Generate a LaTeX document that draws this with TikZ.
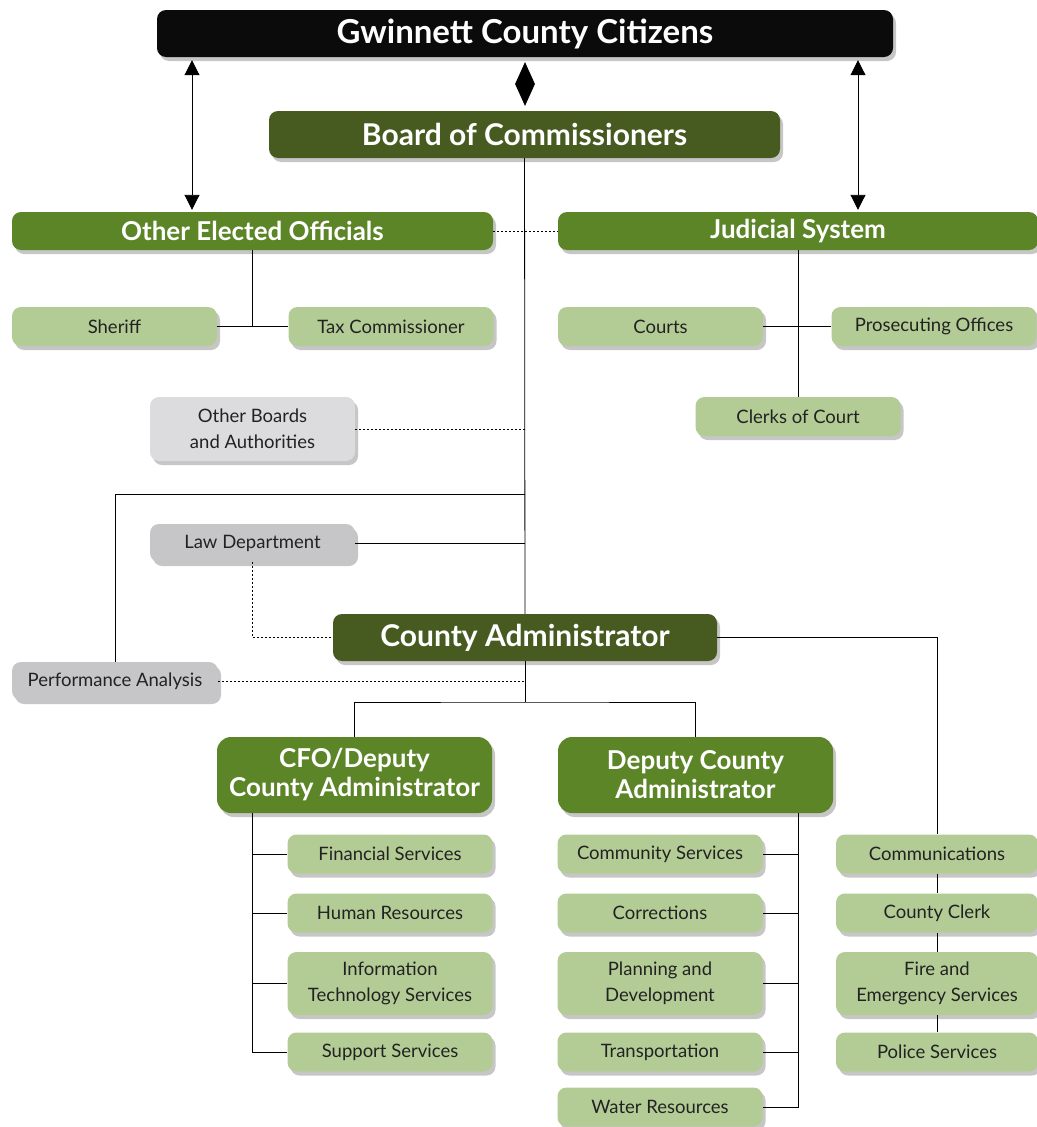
\documentclass[tikz,border=0pt]{standalone}
\usepackage{fontspec}
\setmainfont{Lato}
\usetikzlibrary{shapes.geometric, shadows, arrows.meta}
\definecolor{citblack}{HTML}{0B0B0B}
\definecolor{boardgreen}{HTML}{475B21}
\definecolor{midgreen}{HTML}{5C8528}
\definecolor{lightgreen}{HTML}{B3CC96}
\definecolor{lightgrey}{HTML}{DCDCDE}
\definecolor{midgrey}{HTML}{C6C6C8}
\definecolor{textgrey}{HTML}{222222}
\tikzset{
  orgbox/.style={rounded corners=9pt, inner sep=0pt, align=center,
    drop shadow={shadow xshift=3pt, shadow yshift=-4pt, opacity=0.45}},
  citbox/.style={orgbox, fill=citblack, text=white, minimum width=736pt,
    minimum height=47pt, font=\bfseries\fontsize{33}{35}\selectfont},
  boardbox/.style={orgbox, fill=boardgreen, text=white, minimum height=47pt,
    font=\bfseries\fontsize{30}{32}\selectfont},
  electbox/.style={orgbox, fill=midgreen, text=white, minimum height=38pt,
    font=\bfseries\fontsize{26}{28}\selectfont},
  deputybox/.style={orgbox, rounded corners=14pt, fill=midgreen, text=white,
    minimum width=275pt, minimum height=76pt, font=\bfseries\fontsize{26}{29}\selectfont},
  unitbox/.style={orgbox, fill=#1, text=textgrey, minimum width=205pt,
    minimum height=39pt, font=\fontsize{18.5}{26}\selectfont},
  unitbox/.default=lightgreen,
  link/.style={line width=0.8pt, black},
  dotlink/.style={line width=0.8pt, black, dash pattern=on 2pt off 2pt},
  citarrow/.style={line width=0.9pt, black, {Triangle[length=15pt,width=15pt]}-{Triangle[length=15pt,width=15pt]}}
}

\begin{document}
\begin{tikzpicture}[x=1pt, y=-1pt]
  \useasboundingbox (0,0) rectangle (1036,1127);
  % top of the chart
  \node[citbox] (citizens) at (525,33.5) {Gwinnett County Citizens};
  \node[diamond, fill=black, minimum width=20pt, minimum height=44pt, inner sep=0pt] (dia) at (525,84) {};
  \node[boardbox, minimum width=511pt] (board) at (524.5,134.5) {Board of Commissioners};
  \node[electbox, minimum width=481pt] (oeo) at (252.5,231) {Other Elected Officials};
  \node[electbox, minimum width=480pt] (judicial) at (798,231) {Judicial System};
  % elected officials and courts
  \node[unitbox] (sheriff) at (114.5,326.5) {Sheriff};
  \node[unitbox] (tax) at (391,326.5) {Tax Commissioner};
  \node[unitbox] (courts) at (660.5,326.5) {Courts};
  \node[unitbox] (pros) at (934,326.5) {Prosecuting Offices};
  \node[unitbox] (clerks) at (798,416.5) {Clerks of Court};
  % staff offices
  \node[unitbox=lightgrey, minimum height=64pt] (boards) at (252.5,429) {Other Boards\\and Authorities};
  \node[unitbox=midgrey, minimum height=38pt] (law) at (252.5,543) {Law Department};
  \node[boardbox, minimum width=384pt] (ca) at (525,637.5) {County Administrator};
  \node[unitbox=midgrey, minimum width=206pt, minimum height=38pt] (perf) at (115,681) {Performance Analysis};
  \node[deputybox] (cfo) at (354.5,775) {CFO/Deputy\\County Administrator};
  \node[deputybox] (dca) at (695.5,775) {Deputy County\\Administrator};
  % departments
  \node[unitbox] (fin) at (390,854) {Financial Services};
  \node[unitbox] (hr) at (390,913) {Human Resources};
  \node[unitbox, minimum height=63pt] (it) at (390,983.5) {Information\\Technology Services};
  \node[unitbox] (sup) at (390,1052) {Support Services};
  \node[unitbox] (comsvc) at (660,854) {Community Services};
  \node[unitbox] (corr) at (660,913) {Corrections};
  \node[unitbox, minimum height=63pt] (plan) at (660,983.5) {Planning and\\Development};
  \node[unitbox] (trans) at (660,1052) {Transportation};
  \node[unitbox] (water) at (660,1107) {Water Resources};
  \node[unitbox, minimum width=202pt] (comm) at (937,854) {Communications};
  \node[unitbox, minimum width=202pt] (clerk) at (937,913) {County Clerk};
  \node[unitbox, minimum width=202pt, minimum height=63pt] (fire) at (937,983.5) {Fire and\\Emergency Services};
  \node[unitbox, minimum width=202pt] (police) at (937,1052) {Police Services};
  % connectors
  \coordinate (lx) at (192,0);
  \coordinate (rx) at (858,0);
  \coordinate (j1) at (525,494);
  \coordinate (branch) at (525,702);
  \coordinate (cfoline) at ([xshift=36pt]cfo.south west);
  \coordinate (dcaline) at ([xshift=-35pt]dca.south east);
  \draw[citarrow, shorten <=3pt, shorten >=2pt] (citizens.south -| lx) -- (oeo.north -| lx);
  \draw[citarrow, shorten <=3pt, shorten >=2pt] (citizens.south -| rx) -- (judicial.north -| rx);
  \draw[dotlink] (oeo) -- (judicial);
  \draw[link] (oeo) -- (oeo |- sheriff);
  \draw[link] (sheriff) -- (tax);
  \draw[link] (judicial) -- (clerks);
  \draw[link] (courts) -- (pros);
  \draw[link] (board) -- (ca);
  \draw[link] (ca) -- (branch);
  \draw[dotlink] (boards) -- (boards -| board);
  \draw[link] (perf) |- (j1);
  \draw[link] (law) -- (law -| board);
  \draw[dotlink] (law) |- (ca);
  \draw[dotlink] (perf) -- (perf -| board);
  \draw[link] (ca) -| (comm);
  \draw[link] (cfo) |- (branch) -| (dca);
  \foreach \n in {fin,hr,it,sup} \draw[link] (cfoline) |- (\n);
  \foreach \n in {comsvc,corr,plan,trans,water} \draw[link] (dcaline) |- (\n);
  \draw[link] (comm) -- (clerk) -- (fire) -- (police);
\end{tikzpicture}
\end{document}
